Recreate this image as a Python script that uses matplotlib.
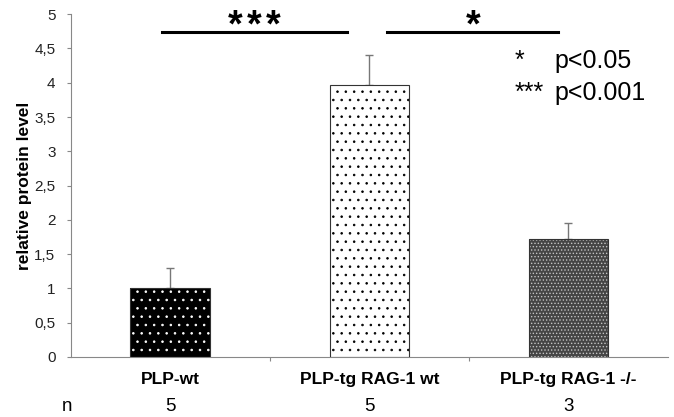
import numpy as np
import matplotlib
matplotlib.use('Agg')
import matplotlib.pyplot as plt
from matplotlib.ticker import FuncFormatter

plt.rcParams['font.family'] = ['Liberation Sans', 'DejaVu Sans']
plt.rcParams['hatch.linewidth'] = 0.6

# data
groups = ['PLP-wt', 'PLP-tg RAG-1 wt', 'PLP-tg RAG-1 -/-']
n_animals = ['5', '5', '3']
protein = [1.0, 3.96, 1.72]
sem = [0.30, 0.45, 0.23]

faces = ['black', 'white', '#454545']
hatch_col = ['white', 'black', '#c4c4c4']
hatches = ['..', '..', '.....']

fig = plt.figure(figsize=(6.74, 4.17), dpi=100)
ax = fig.add_axes([0.105, 0.144, 0.886, 0.822])

x = np.arange(len(groups))
for i in range(len(groups)):
    ax.bar(x[i], protein[i], 0.4, color=faces[i], edgecolor=hatch_col[i],
           hatch=hatches[i], linewidth=0, zorder=2)
ax.bar(x, protein, 0.4, fill=False, edgecolor='#333333', linewidth=0.8, zorder=3)
ax.errorbar(x, protein, yerr=[np.zeros(3), sem], fmt='none', ecolor='#777777',
            elinewidth=1, capsize=3, capthick=1, zorder=1)

ax.set_xlim(-0.5, 2.5)
ax.set_ylim(0, 5)
ax.set_yticks(np.arange(0, 5.01, 0.5))
ax.yaxis.set_major_formatter(FuncFormatter(lambda v, p: ('%g' % v).replace('.', ',')))
ax.set_xticks([0.5, 1.5])
ax.set_xticklabels([])
ax.tick_params(axis='both', direction='out', length=3, color='#888888',
               labelsize=11, labelcolor='#222222')
ax.tick_params(axis='y', pad=8)
for s in ['top', 'right']:
    ax.spines[s].set_visible(False)
for s in ['left', 'bottom']:
    ax.spines[s].set_color('#888888')
ax.set_ylabel('relative protein level', fontsize=12.5, fontweight='bold', labelpad=2)

tr = ax.get_xaxis_transform()
for i in range(len(groups)):
    ax.text(x[i], -0.067, groups[i], transform=tr, ha='center', va='center',
            fontsize=12.5, fontweight='bold')
    ax.text(x[i], -0.146, n_animals[i], transform=tr, ha='center', va='center',
            fontsize=13.5)
ax.text(-0.52, -0.146, 'n', transform=tr, ha='center', va='center', fontsize=13.5)

# significance bars
ax.plot([-0.04, 0.89], [4.74, 4.74], color='black', lw=2.2, clip_on=False)
ax.plot([1.09, 1.95], [4.74, 4.74], color='black', lw=2.2, clip_on=False)
for dx in [-0.095, 0, 0.095]:
    ax.text(0.42 + dx, 4.68, '*', ha='center', va='baseline', fontsize=27,
            fontweight='bold', clip_on=False)
ax.text(1.52, 4.68, '*', ha='center', va='baseline', fontsize=27,
        fontweight='bold', clip_on=False)

# key
ax.text(1.755, 4.21, '*', ha='center', va='baseline', fontsize=18)
ax.text(1.73, 3.75, '***', ha='left', va='baseline', fontsize=18)
ax.text(1.93, 4.21, 'p<0.05', ha='left', va='baseline', fontsize=18)
ax.text(1.93, 3.75, 'p<0.001', ha='left', va='baseline', fontsize=18)

fig.savefig('out.png', dpi=100)
